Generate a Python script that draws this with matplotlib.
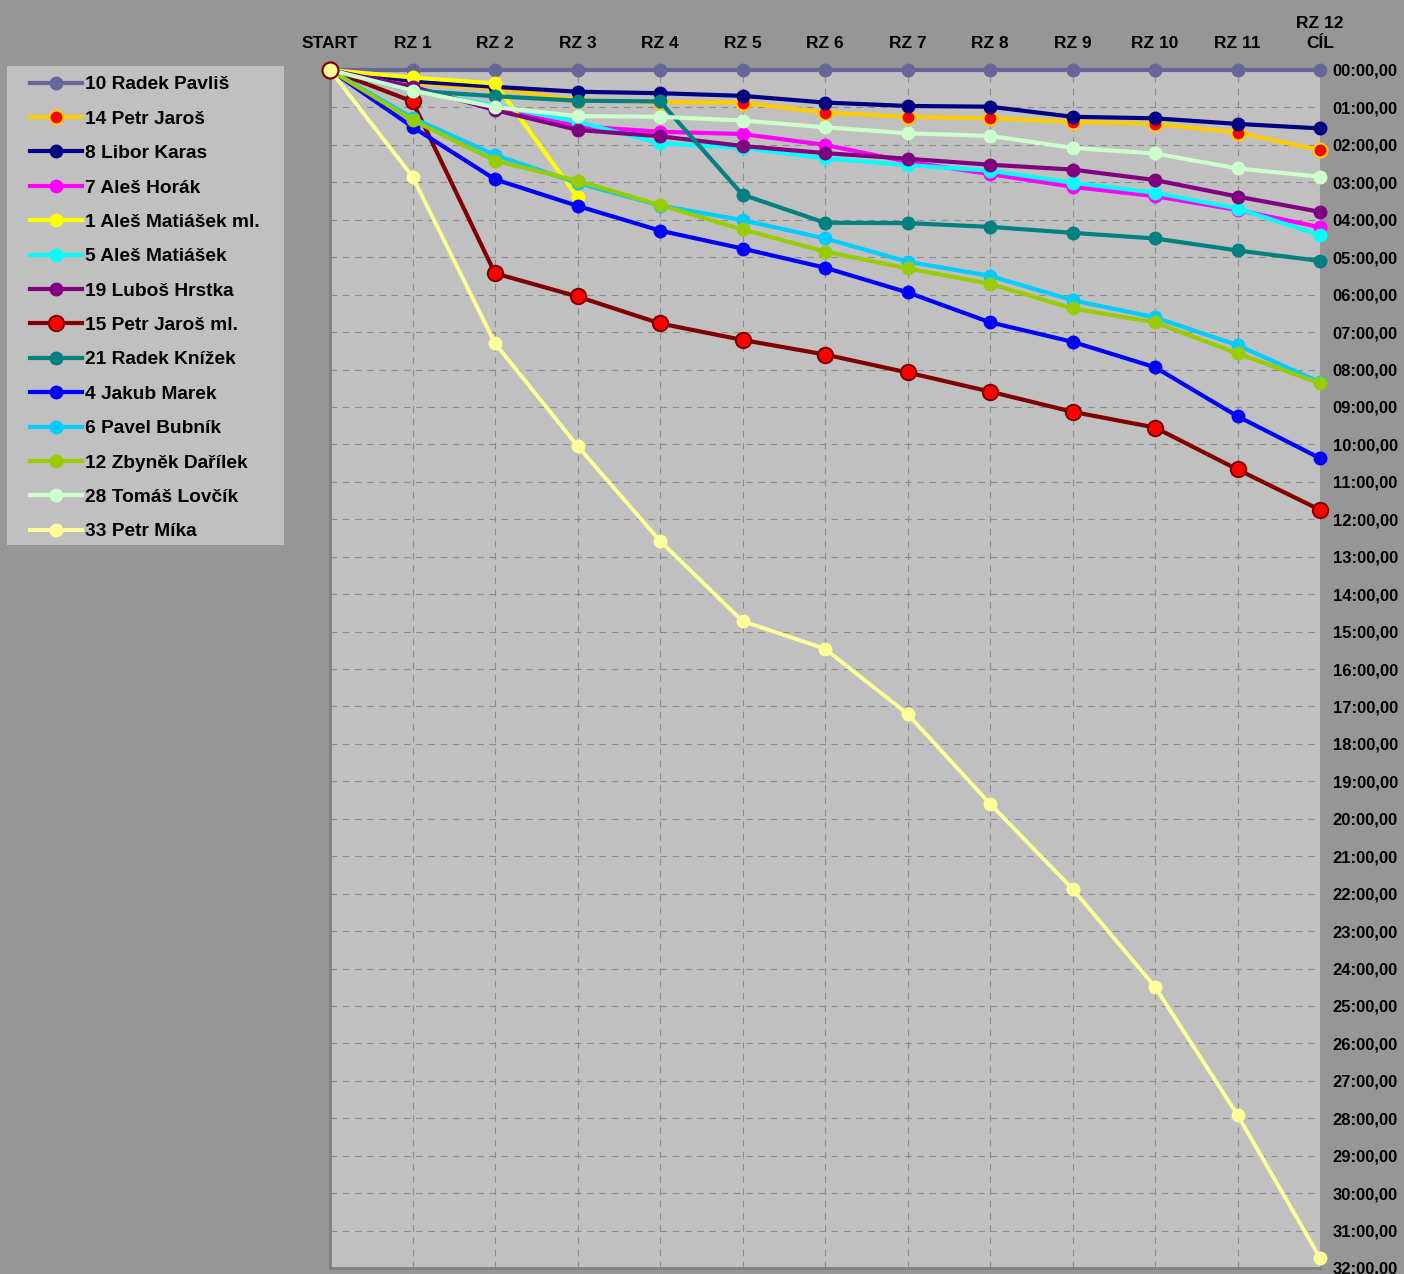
import numpy as np
import matplotlib.pyplot as plt
from matplotlib.patches import Rectangle
from matplotlib.ticker import MultipleLocator, FuncFormatter

plt.rcParams['font.family'] = ['Liberation Sans', 'DejaVu Sans']
plt.rcParams['font.weight'] = 'bold'

# stages (top axis)
stages = ["START", "RZ 1", "RZ 2", "RZ 3", "RZ 4", "RZ 5", "RZ 6",
          "RZ 7", "RZ 8", "RZ 9", "RZ 10", "RZ 11", "RZ 12\nCÍL"]

# time lost on the leader after each stage, in minutes
nan = np.nan
pavlis = [0, 0, 0, 0, 0, 0, 0, 0, 0, 0, 0, 0, 0]
jaros = [0, 0.35, 0.50, 0.80, 0.86, 0.87, 1.14, 1.25, 1.29, 1.38, 1.44, 1.67, 2.14]
karas = [0, 0.30, 0.45, 0.58, 0.62, 0.69, 0.87, 0.96, 0.98, 1.25, 1.29, 1.44, 1.56]
horak = [0, 0.45, 1.05, 1.50, 1.65, 1.71, 2.00, 2.45, 2.78, 3.12, 3.37, 3.74, 4.20]
matiasek_ml = [0, 0.20, 0.36, 3.40, nan, nan, nan, nan, nan, nan, nan, nan, nan]
matiasek = [0, 0.55, 0.95, 1.38, 1.96, 2.08, 2.36, 2.54, 2.69, 3.01, 3.28, 3.70, 4.41]
hrstka = [0, 0.45, 1.07, 1.60, 1.77, 2.03, 2.22, 2.37, 2.53, 2.66, 2.94, 3.38, 3.79]
jaros_ml = [0, 0.84, 5.43, 6.05, 6.77, 7.21, 7.60, 8.08, 8.59, 9.13, 9.55, 10.67, 11.75]
knizek = [0, 0.55, 0.70, 0.82, 0.84, 3.33, 4.08, 4.09, 4.19, 4.35, 4.50, 4.82, 5.10]
marek = [0, 1.52, 2.92, 3.63, 4.29, 4.77, 5.28, 5.94, 6.74, 7.26, 7.94, 9.25, 10.37]
bubnik = [0, 1.28, 2.27, 3.02, 3.62, 4.01, 4.50, 5.12, 5.50, 6.15, 6.61, 7.35, 8.34]
darilek = [0, 1.34, 2.42, 2.96, 3.61, 4.26, 4.85, 5.30, 5.71, 6.37, 6.74, 7.57, 8.37]
lovcik = [0, 0.55, 0.99, 1.23, 1.25, 1.35, 1.53, 1.69, 1.76, 2.08, 2.23, 2.63, 2.85]
mika = [0, 2.85, 7.30, 10.04, 12.58, 14.72, 15.46, 17.20, 19.60, 21.87, 24.49, 27.91, 31.73]

names = ["10 Radek Pavliš", "14 Petr Jaroš", "8 Libor Karas", "7 Aleš Horák",
         "1 Aleš Matiášek ml.", "5 Aleš Matiášek", "19 Luboš Hrstka",
         "15 Petr Jaroš ml.", "21 Radek Knížek", "4 Jakub Marek",
         "6 Pavel Bubník", "12 Zbyněk Dařílek", "28 Tomáš Lovčík", "33 Petr Míka"]
series = [pavlis, jaros, karas, horak, matiasek_ml, matiasek, hrstka,
          jaros_ml, knizek, marek, bubnik, darilek, lovcik, mika]

# (line colour, marker face, marker edge, marker size, line width)
styles = [
    ("#666699", "#666699", "#666699", 8.5, 3),
    ("#FFCC00", "#FF0000", "#FFCC00", 10, 3),
    ("#000080", "#000080", "#000080", 8.5, 3),
    ("#FF00FF", "#FF00FF", "#FF00FF", 8.5, 3),
    ("#FFFF00", "#FFFF00", "#FFFF00", 8.5, 3),
    ("#00FFFF", "#00FFFF", "#00FFFF", 8.5, 3),
    ("#800080", "#800080", "#800080", 8.5, 3),
    ("#800000", "#FF0000", "#800000", 11, 3),
    ("#008080", "#008080", "#008080", 8.5, 3),
    ("#0000FF", "#0000FF", "#0000FF", 8.5, 3),
    ("#00CCFF", "#00CCFF", "#00CCFF", 8.5, 3),
    ("#99CC00", "#99CC00", "#99CC00", 8.5, 3),
    ("#CCFFCC", "#CCFFCC", "#CCFFCC", 8.5, 3),
    ("#FFFF99", "#FFFF99", "#FFFF99", 8.5, 2.8),
]

fig = plt.figure(figsize=(14.04, 12.74), dpi=100, facecolor="#969696")
ax = fig.add_axes([330 / 1404, 1 - 1268 / 1274, 990 / 1404, 1198 / 1274])
ax.set_facecolor("#C0C0C0")

x = np.arange(len(stages))
handles = []
for name, vals, (lc, mfc, mec, ms, lw) in zip(names, series, styles):
    h, = ax.plot(x, vals, color=lc, lw=lw, marker="o", ms=ms, mfc=mfc,
                 mec=mec, mew=1.5, clip_on=False, zorder=3, label=name)
    handles.append(h)

# start marker as in the original (dark red ring, pale fill)
ax.plot(x[0], jaros_ml[0], marker="o", ms=11.5, mfc="#FFFF99", mec="#800000",
        mew=1.5, clip_on=False, zorder=4)

ax.set_xlim(0, len(stages) - 1)
ax.set_ylim(32, 0)
ax.xaxis.tick_top()
ax.set_xticks(x)
ax.set_xticklabels(stages, fontsize=12.5, fontweight="bold", linespacing=1.45)
ax.yaxis.tick_right()
ax.yaxis.set_major_locator(MultipleLocator(1))
ax.yaxis.set_major_formatter(FuncFormatter(lambda v, p: f"{int(round(v)):02d}:00,00"))
ax.tick_params(axis="x", length=0, pad=13.5)
ax.tick_params(axis="y", length=0, pad=9, labelsize=12)
for lab in ax.get_yticklabels():
    lab.set_fontweight("bold")

ax.grid(True, color="#8c8c8c", lw=0.8, ls=(0, (6, 5)))
ax.set_axisbelow(True)
for s in ["top", "right"]:
    ax.spines[s].set_visible(False)
for s in ["left", "bottom"]:
    ax.spines[s].set_color("#808080")
    ax.spines[s].set_linewidth(2)

# legend box on the left
fig.patches.append(Rectangle((7 / 1404, 1 - 545 / 1274), 277 / 1404, 479 / 1274,
                             transform=fig.transFigure, facecolor="#C0C0C0",
                             edgecolor="none", zorder=0))
fig.legend(handles=handles, loc="upper left", bbox_to_anchor=(30 / 1404, 1 - 76 / 1274),
           frameon=False, handlelength=2.7, handletextpad=0.15,
           labelspacing=0.885, borderpad=0, borderaxespad=0,
           prop={"weight": "bold", "size": 13.8})

fig.savefig("out.png", dpi=100, facecolor=fig.get_facecolor())
